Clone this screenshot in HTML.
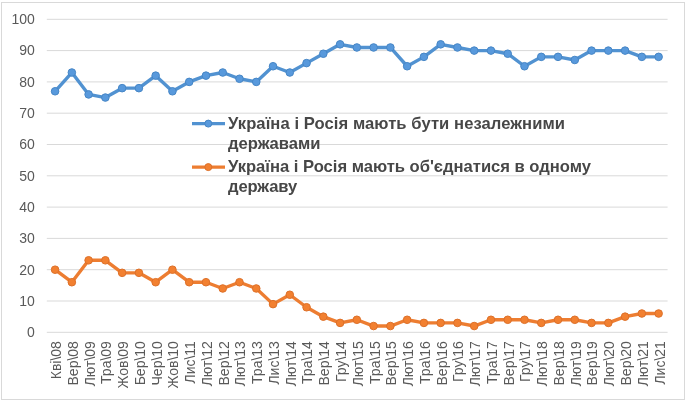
<!DOCTYPE html>
<html><head><meta charset="utf-8"><style>
html,body{margin:0;padding:0;background:#fff;width:690px;height:404px;overflow:hidden}
svg{display:block;filter:blur(0.3px)}
.ax{font-family:"Liberation Sans",sans-serif;font-size:14px;fill:#595959;letter-spacing:0px}
.lg{font-family:"Liberation Sans",sans-serif;font-size:16.6px;font-weight:bold;fill:#474747;letter-spacing:0px}
</style></head><body>
<svg width="690" height="404" viewBox="0 0 690 404">
<rect x="1.5" y="2.5" width="683.0" height="397.0" fill="#fff" stroke="#d9d9d9" stroke-width="1"/>
<line x1="46.8" x2="667.6" y1="332.30" y2="332.30" stroke="#d9d9d9" stroke-width="1.0"/>
<text x="34.8" y="337.10" text-anchor="end" class="ax">0</text>
<line x1="46.8" x2="667.6" y1="301.00" y2="301.00" stroke="#d9d9d9" stroke-width="1.0"/>
<text x="34.8" y="305.80" text-anchor="end" class="ax">10</text>
<line x1="46.8" x2="667.6" y1="269.70" y2="269.70" stroke="#d9d9d9" stroke-width="1.0"/>
<text x="34.8" y="274.50" text-anchor="end" class="ax">20</text>
<line x1="46.8" x2="667.6" y1="238.40" y2="238.40" stroke="#d9d9d9" stroke-width="1.0"/>
<text x="34.8" y="243.20" text-anchor="end" class="ax">30</text>
<line x1="46.8" x2="667.6" y1="207.10" y2="207.10" stroke="#d9d9d9" stroke-width="1.0"/>
<text x="34.8" y="211.90" text-anchor="end" class="ax">40</text>
<line x1="46.8" x2="667.6" y1="175.80" y2="175.80" stroke="#d9d9d9" stroke-width="1.0"/>
<text x="34.8" y="180.60" text-anchor="end" class="ax">50</text>
<line x1="46.8" x2="667.6" y1="144.50" y2="144.50" stroke="#d9d9d9" stroke-width="1.0"/>
<text x="34.8" y="149.30" text-anchor="end" class="ax">60</text>
<line x1="46.8" x2="667.6" y1="113.20" y2="113.20" stroke="#d9d9d9" stroke-width="1.0"/>
<text x="34.8" y="118.00" text-anchor="end" class="ax">70</text>
<line x1="46.8" x2="667.6" y1="81.90" y2="81.90" stroke="#d9d9d9" stroke-width="1.0"/>
<text x="34.8" y="86.70" text-anchor="end" class="ax">80</text>
<line x1="46.8" x2="667.6" y1="50.60" y2="50.60" stroke="#d9d9d9" stroke-width="1.0"/>
<text x="34.8" y="55.40" text-anchor="end" class="ax">90</text>
<line x1="46.8" x2="667.6" y1="19.30" y2="19.30" stroke="#d9d9d9" stroke-width="1.0"/>
<text x="34.8" y="24.10" text-anchor="end" class="ax">100</text>
<text transform="translate(60.98,341.1) rotate(-90)" text-anchor="end" class="ax">Кві\08</text>
<text transform="translate(77.75,341.1) rotate(-90)" text-anchor="end" class="ax">Вер\08</text>
<text transform="translate(94.51,341.1) rotate(-90)" text-anchor="end" class="ax">Лют\09</text>
<text transform="translate(111.28,341.1) rotate(-90)" text-anchor="end" class="ax">Тра\09</text>
<text transform="translate(128.04,341.1) rotate(-90)" text-anchor="end" class="ax">Жов\09</text>
<text transform="translate(144.81,341.1) rotate(-90)" text-anchor="end" class="ax">Бер\10</text>
<text transform="translate(161.57,341.1) rotate(-90)" text-anchor="end" class="ax">Чер\10</text>
<text transform="translate(178.34,341.1) rotate(-90)" text-anchor="end" class="ax">Жов\10</text>
<text transform="translate(195.10,341.1) rotate(-90)" text-anchor="end" class="ax">Лис\11</text>
<text transform="translate(211.87,341.1) rotate(-90)" text-anchor="end" class="ax">Лют\12</text>
<text transform="translate(228.63,341.1) rotate(-90)" text-anchor="end" class="ax">Вер\12</text>
<text transform="translate(245.40,341.1) rotate(-90)" text-anchor="end" class="ax">Лют\13</text>
<text transform="translate(262.16,341.1) rotate(-90)" text-anchor="end" class="ax">Тра\13</text>
<text transform="translate(278.93,341.1) rotate(-90)" text-anchor="end" class="ax">Лис\13</text>
<text transform="translate(295.69,341.1) rotate(-90)" text-anchor="end" class="ax">Лют\14</text>
<text transform="translate(312.46,341.1) rotate(-90)" text-anchor="end" class="ax">Тра\14</text>
<text transform="translate(329.22,341.1) rotate(-90)" text-anchor="end" class="ax">Вер\14</text>
<text transform="translate(345.99,341.1) rotate(-90)" text-anchor="end" class="ax">Гру\14</text>
<text transform="translate(362.75,341.1) rotate(-90)" text-anchor="end" class="ax">Лют\15</text>
<text transform="translate(379.51,341.1) rotate(-90)" text-anchor="end" class="ax">Тра\15</text>
<text transform="translate(396.28,341.1) rotate(-90)" text-anchor="end" class="ax">Вер\15</text>
<text transform="translate(413.04,341.1) rotate(-90)" text-anchor="end" class="ax">Лют\16</text>
<text transform="translate(429.81,341.1) rotate(-90)" text-anchor="end" class="ax">Тра\16</text>
<text transform="translate(446.57,341.1) rotate(-90)" text-anchor="end" class="ax">Вер\16</text>
<text transform="translate(463.34,341.1) rotate(-90)" text-anchor="end" class="ax">Гру\16</text>
<text transform="translate(480.10,341.1) rotate(-90)" text-anchor="end" class="ax">Лют\17</text>
<text transform="translate(496.87,341.1) rotate(-90)" text-anchor="end" class="ax">Тра\17</text>
<text transform="translate(513.63,341.1) rotate(-90)" text-anchor="end" class="ax">Вер\17</text>
<text transform="translate(530.40,341.1) rotate(-90)" text-anchor="end" class="ax">Гру\17</text>
<text transform="translate(547.16,341.1) rotate(-90)" text-anchor="end" class="ax">Лют\18</text>
<text transform="translate(563.93,341.1) rotate(-90)" text-anchor="end" class="ax">Вер\18</text>
<text transform="translate(580.69,341.1) rotate(-90)" text-anchor="end" class="ax">Лют\19</text>
<text transform="translate(597.46,341.1) rotate(-90)" text-anchor="end" class="ax">Вер\19</text>
<text transform="translate(614.22,341.1) rotate(-90)" text-anchor="end" class="ax">Лют\20</text>
<text transform="translate(630.99,341.1) rotate(-90)" text-anchor="end" class="ax">Вер\20</text>
<text transform="translate(647.75,341.1) rotate(-90)" text-anchor="end" class="ax">Лют\21</text>
<text transform="translate(664.52,341.1) rotate(-90)" text-anchor="end" class="ax">Лис\21</text>
<polyline points="55.08,91.29 71.85,72.51 88.61,94.42 105.38,97.55 122.14,88.16 138.91,88.16 155.67,75.64 172.44,91.29 189.20,81.90 205.97,75.64 222.73,72.51 239.50,78.77 256.26,81.90 273.03,66.25 289.79,72.51 306.56,63.12 323.32,53.73 340.09,44.34 356.85,47.47 373.61,47.47 390.38,47.47 407.14,66.25 423.91,56.86 440.67,44.34 457.44,47.47 474.20,50.60 490.97,50.60 507.73,53.73 524.50,66.25 541.26,56.86 558.03,56.86 574.79,59.99 591.56,50.60 608.32,50.60 625.09,50.60 641.85,56.86 658.62,56.86" fill="none" stroke="#5192d1" stroke-width="3.4" stroke-linejoin="round" stroke-linecap="round"/>
<circle cx="55.08" cy="91.29" r="3.8" fill="#5899dc" stroke="#4686c6" stroke-width="1.0"/>
<circle cx="71.85" cy="72.51" r="3.8" fill="#5899dc" stroke="#4686c6" stroke-width="1.0"/>
<circle cx="88.61" cy="94.42" r="3.8" fill="#5899dc" stroke="#4686c6" stroke-width="1.0"/>
<circle cx="105.38" cy="97.55" r="3.8" fill="#5899dc" stroke="#4686c6" stroke-width="1.0"/>
<circle cx="122.14" cy="88.16" r="3.8" fill="#5899dc" stroke="#4686c6" stroke-width="1.0"/>
<circle cx="138.91" cy="88.16" r="3.8" fill="#5899dc" stroke="#4686c6" stroke-width="1.0"/>
<circle cx="155.67" cy="75.64" r="3.8" fill="#5899dc" stroke="#4686c6" stroke-width="1.0"/>
<circle cx="172.44" cy="91.29" r="3.8" fill="#5899dc" stroke="#4686c6" stroke-width="1.0"/>
<circle cx="189.20" cy="81.90" r="3.8" fill="#5899dc" stroke="#4686c6" stroke-width="1.0"/>
<circle cx="205.97" cy="75.64" r="3.8" fill="#5899dc" stroke="#4686c6" stroke-width="1.0"/>
<circle cx="222.73" cy="72.51" r="3.8" fill="#5899dc" stroke="#4686c6" stroke-width="1.0"/>
<circle cx="239.50" cy="78.77" r="3.8" fill="#5899dc" stroke="#4686c6" stroke-width="1.0"/>
<circle cx="256.26" cy="81.90" r="3.8" fill="#5899dc" stroke="#4686c6" stroke-width="1.0"/>
<circle cx="273.03" cy="66.25" r="3.8" fill="#5899dc" stroke="#4686c6" stroke-width="1.0"/>
<circle cx="289.79" cy="72.51" r="3.8" fill="#5899dc" stroke="#4686c6" stroke-width="1.0"/>
<circle cx="306.56" cy="63.12" r="3.8" fill="#5899dc" stroke="#4686c6" stroke-width="1.0"/>
<circle cx="323.32" cy="53.73" r="3.8" fill="#5899dc" stroke="#4686c6" stroke-width="1.0"/>
<circle cx="340.09" cy="44.34" r="3.8" fill="#5899dc" stroke="#4686c6" stroke-width="1.0"/>
<circle cx="356.85" cy="47.47" r="3.8" fill="#5899dc" stroke="#4686c6" stroke-width="1.0"/>
<circle cx="373.61" cy="47.47" r="3.8" fill="#5899dc" stroke="#4686c6" stroke-width="1.0"/>
<circle cx="390.38" cy="47.47" r="3.8" fill="#5899dc" stroke="#4686c6" stroke-width="1.0"/>
<circle cx="407.14" cy="66.25" r="3.8" fill="#5899dc" stroke="#4686c6" stroke-width="1.0"/>
<circle cx="423.91" cy="56.86" r="3.8" fill="#5899dc" stroke="#4686c6" stroke-width="1.0"/>
<circle cx="440.67" cy="44.34" r="3.8" fill="#5899dc" stroke="#4686c6" stroke-width="1.0"/>
<circle cx="457.44" cy="47.47" r="3.8" fill="#5899dc" stroke="#4686c6" stroke-width="1.0"/>
<circle cx="474.20" cy="50.60" r="3.8" fill="#5899dc" stroke="#4686c6" stroke-width="1.0"/>
<circle cx="490.97" cy="50.60" r="3.8" fill="#5899dc" stroke="#4686c6" stroke-width="1.0"/>
<circle cx="507.73" cy="53.73" r="3.8" fill="#5899dc" stroke="#4686c6" stroke-width="1.0"/>
<circle cx="524.50" cy="66.25" r="3.8" fill="#5899dc" stroke="#4686c6" stroke-width="1.0"/>
<circle cx="541.26" cy="56.86" r="3.8" fill="#5899dc" stroke="#4686c6" stroke-width="1.0"/>
<circle cx="558.03" cy="56.86" r="3.8" fill="#5899dc" stroke="#4686c6" stroke-width="1.0"/>
<circle cx="574.79" cy="59.99" r="3.8" fill="#5899dc" stroke="#4686c6" stroke-width="1.0"/>
<circle cx="591.56" cy="50.60" r="3.8" fill="#5899dc" stroke="#4686c6" stroke-width="1.0"/>
<circle cx="608.32" cy="50.60" r="3.8" fill="#5899dc" stroke="#4686c6" stroke-width="1.0"/>
<circle cx="625.09" cy="50.60" r="3.8" fill="#5899dc" stroke="#4686c6" stroke-width="1.0"/>
<circle cx="641.85" cy="56.86" r="3.8" fill="#5899dc" stroke="#4686c6" stroke-width="1.0"/>
<circle cx="658.62" cy="56.86" r="3.8" fill="#5899dc" stroke="#4686c6" stroke-width="1.0"/>
<polyline points="55.08,269.70 71.85,282.22 88.61,260.31 105.38,260.31 122.14,272.83 138.91,272.83 155.67,282.22 172.44,269.70 189.20,282.22 205.97,282.22 222.73,288.48 239.50,282.22 256.26,288.48 273.03,304.13 289.79,294.74 306.56,307.26 323.32,316.65 340.09,322.91 356.85,319.78 373.61,326.04 390.38,326.04 407.14,319.78 423.91,322.91 440.67,322.91 457.44,322.91 474.20,326.04 490.97,319.78 507.73,319.78 524.50,319.78 541.26,322.91 558.03,319.78 574.79,319.78 591.56,322.91 608.32,322.91 625.09,316.65 641.85,313.52 658.62,313.52" fill="none" stroke="#ed7d31" stroke-width="3.4" stroke-linejoin="round" stroke-linecap="round"/>
<circle cx="55.08" cy="269.70" r="3.8" fill="#f28030" stroke="#dd7029" stroke-width="1.0"/>
<circle cx="71.85" cy="282.22" r="3.8" fill="#f28030" stroke="#dd7029" stroke-width="1.0"/>
<circle cx="88.61" cy="260.31" r="3.8" fill="#f28030" stroke="#dd7029" stroke-width="1.0"/>
<circle cx="105.38" cy="260.31" r="3.8" fill="#f28030" stroke="#dd7029" stroke-width="1.0"/>
<circle cx="122.14" cy="272.83" r="3.8" fill="#f28030" stroke="#dd7029" stroke-width="1.0"/>
<circle cx="138.91" cy="272.83" r="3.8" fill="#f28030" stroke="#dd7029" stroke-width="1.0"/>
<circle cx="155.67" cy="282.22" r="3.8" fill="#f28030" stroke="#dd7029" stroke-width="1.0"/>
<circle cx="172.44" cy="269.70" r="3.8" fill="#f28030" stroke="#dd7029" stroke-width="1.0"/>
<circle cx="189.20" cy="282.22" r="3.8" fill="#f28030" stroke="#dd7029" stroke-width="1.0"/>
<circle cx="205.97" cy="282.22" r="3.8" fill="#f28030" stroke="#dd7029" stroke-width="1.0"/>
<circle cx="222.73" cy="288.48" r="3.8" fill="#f28030" stroke="#dd7029" stroke-width="1.0"/>
<circle cx="239.50" cy="282.22" r="3.8" fill="#f28030" stroke="#dd7029" stroke-width="1.0"/>
<circle cx="256.26" cy="288.48" r="3.8" fill="#f28030" stroke="#dd7029" stroke-width="1.0"/>
<circle cx="273.03" cy="304.13" r="3.8" fill="#f28030" stroke="#dd7029" stroke-width="1.0"/>
<circle cx="289.79" cy="294.74" r="3.8" fill="#f28030" stroke="#dd7029" stroke-width="1.0"/>
<circle cx="306.56" cy="307.26" r="3.8" fill="#f28030" stroke="#dd7029" stroke-width="1.0"/>
<circle cx="323.32" cy="316.65" r="3.8" fill="#f28030" stroke="#dd7029" stroke-width="1.0"/>
<circle cx="340.09" cy="322.91" r="3.8" fill="#f28030" stroke="#dd7029" stroke-width="1.0"/>
<circle cx="356.85" cy="319.78" r="3.8" fill="#f28030" stroke="#dd7029" stroke-width="1.0"/>
<circle cx="373.61" cy="326.04" r="3.8" fill="#f28030" stroke="#dd7029" stroke-width="1.0"/>
<circle cx="390.38" cy="326.04" r="3.8" fill="#f28030" stroke="#dd7029" stroke-width="1.0"/>
<circle cx="407.14" cy="319.78" r="3.8" fill="#f28030" stroke="#dd7029" stroke-width="1.0"/>
<circle cx="423.91" cy="322.91" r="3.8" fill="#f28030" stroke="#dd7029" stroke-width="1.0"/>
<circle cx="440.67" cy="322.91" r="3.8" fill="#f28030" stroke="#dd7029" stroke-width="1.0"/>
<circle cx="457.44" cy="322.91" r="3.8" fill="#f28030" stroke="#dd7029" stroke-width="1.0"/>
<circle cx="474.20" cy="326.04" r="3.8" fill="#f28030" stroke="#dd7029" stroke-width="1.0"/>
<circle cx="490.97" cy="319.78" r="3.8" fill="#f28030" stroke="#dd7029" stroke-width="1.0"/>
<circle cx="507.73" cy="319.78" r="3.8" fill="#f28030" stroke="#dd7029" stroke-width="1.0"/>
<circle cx="524.50" cy="319.78" r="3.8" fill="#f28030" stroke="#dd7029" stroke-width="1.0"/>
<circle cx="541.26" cy="322.91" r="3.8" fill="#f28030" stroke="#dd7029" stroke-width="1.0"/>
<circle cx="558.03" cy="319.78" r="3.8" fill="#f28030" stroke="#dd7029" stroke-width="1.0"/>
<circle cx="574.79" cy="319.78" r="3.8" fill="#f28030" stroke="#dd7029" stroke-width="1.0"/>
<circle cx="591.56" cy="322.91" r="3.8" fill="#f28030" stroke="#dd7029" stroke-width="1.0"/>
<circle cx="608.32" cy="322.91" r="3.8" fill="#f28030" stroke="#dd7029" stroke-width="1.0"/>
<circle cx="625.09" cy="316.65" r="3.8" fill="#f28030" stroke="#dd7029" stroke-width="1.0"/>
<circle cx="641.85" cy="313.52" r="3.8" fill="#f28030" stroke="#dd7029" stroke-width="1.0"/>
<circle cx="658.62" cy="313.52" r="3.8" fill="#f28030" stroke="#dd7029" stroke-width="1.0"/>
<line x1="192.0" x2="225.0" y1="123.6" y2="123.6" stroke="#5192d1" stroke-width="3.4"/>
<circle cx="208.3" cy="123.6" r="3.5" fill="#5899dc" stroke="#4686c6" stroke-width="1.0"/>
<line x1="192.0" x2="225.0" y1="167.1" y2="167.1" stroke="#ed7d31" stroke-width="3.4"/>
<circle cx="208.3" cy="167.1" r="3.5" fill="#f28030" stroke="#dd7029" stroke-width="1.0"/>
<text x="228.0" y="129.0" class="lg" textLength="337.0" lengthAdjust="spacing">Україна і Росія мають бути незалежними</text>
<text x="228.0" y="148.8" class="lg" textLength="92.5" lengthAdjust="spacing">державами</text>
<text x="228.0" y="172.3" class="lg" textLength="363.0" lengthAdjust="spacing">Україна і Росія мають об'єднатися в одному</text>
<text x="228.0" y="191.7" class="lg" textLength="69.2" lengthAdjust="spacing">державу</text>
</svg>
</body></html>
